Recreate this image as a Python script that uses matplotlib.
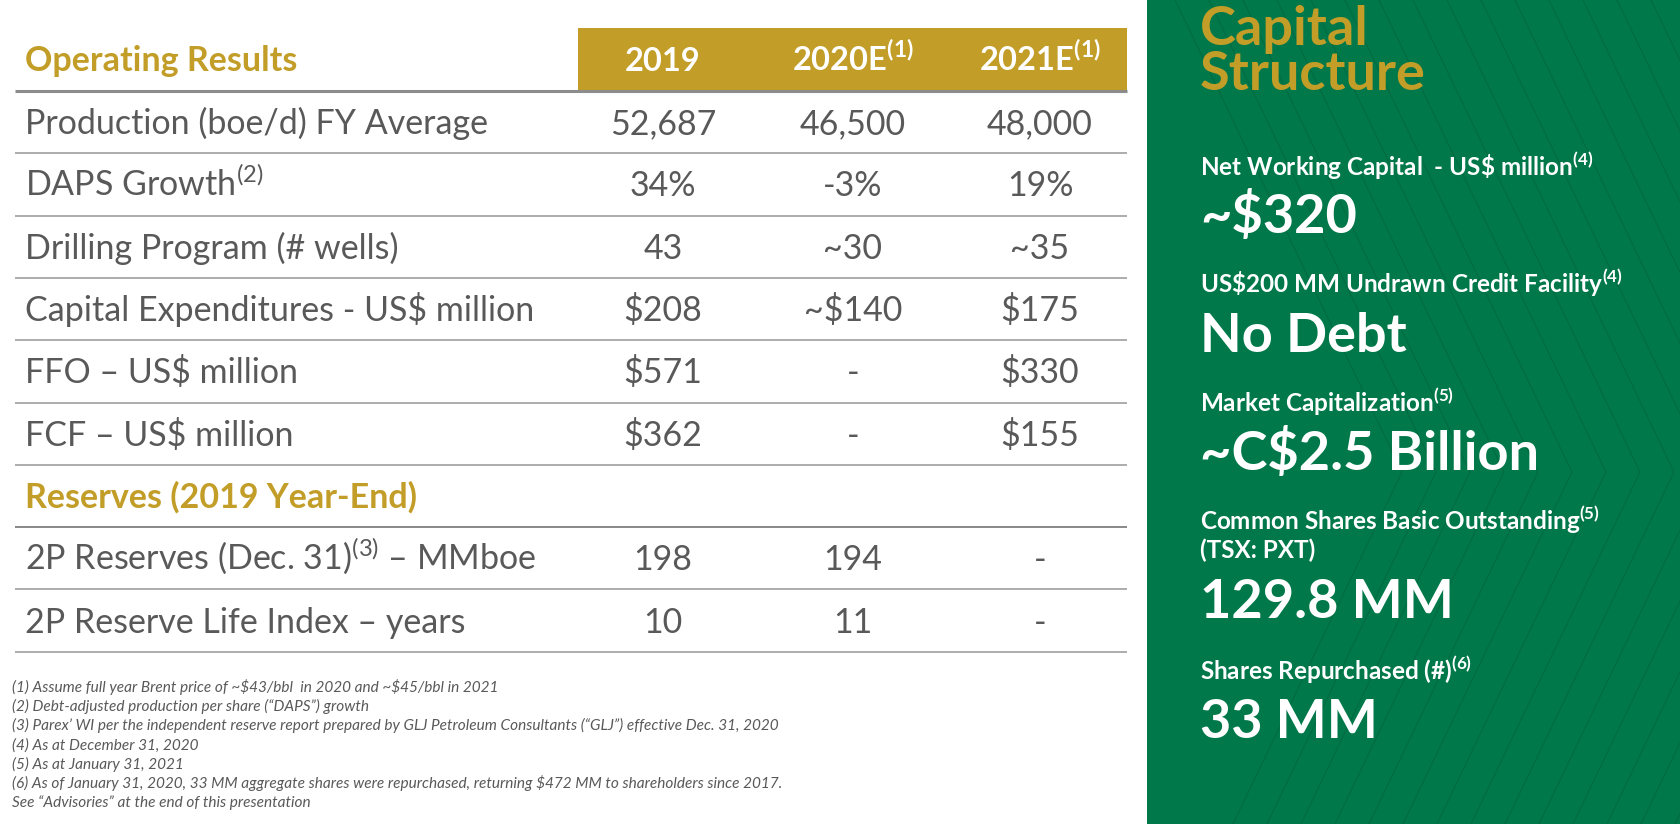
import matplotlib
matplotlib.use('Agg')
import matplotlib.pyplot as plt
from matplotlib.patches import Rectangle

plt.rcParams['font.family'] = ['Lato', 'DejaVu Sans']
plt.rcParams['mathtext.fontset'] = 'custom'
plt.rcParams['mathtext.rm'] = 'Lato'
plt.rcParams['mathtext.bf'] = 'Lato:bold'

GOLD = '#C29D27'
GREEN = '#00784A'
GREY_TXT = '#595959'
GREY_LINE = '#A6A6A6'

# ---- data ----
years = ['2019', r'2020E$^{\mathbf{(1)}}$', r'2021E$^{\mathbf{(1)}}$']
op_labels = ['Production (boe/d) FY Average',
             r'DAPS Growth$^{(2)}$',
             'Drilling Program (# wells)',
             'Capital Expenditures - US$ million',
             'FFO – US$ million',
             'FCF – US$ million']
op_2019 = ['52,687', '34%', '43', '$208', '$571', '$362']
op_2020 = ['46,500', '-3%', '~30', '~$140', '-', '-']
op_2021 = ['48,000', '19%', '~35', '$175', '$330', '$155']

res_labels = [r'2P Reserves (Dec. 31)$^{(3)}$ – MMboe',
              '2P Reserve Life Index – years']
res_2019 = ['198', '10']
res_2020 = ['194', '11']
res_2021 = ['-', '-']

cap_labels = [r'Net Working Capital  - US\$ million$^{\mathbf{(4)}}$',
              r'US\$200 MM Undrawn Credit Facility$^{\mathbf{(4)}}$',
              r'Market Capitalization$^{\mathbf{(5)}}$',
              r'Common Shares Basic Outstanding$^{\mathbf{(5)}}$' + '\n(TSX: PXT)',
              r'Shares Repurchased (#)$^{\mathbf{(6)}}$']
cap_values = ['~$320', 'No Debt', '~C$2.5 Billion', '129.8 MM', '33 MM']

footnotes = ['(1) Assume full year Brent price of ~$43/bbl  in 2020 and ~$45/bbl in 2021',
             '(2) Debt-adjusted production per share (“DAPS”) growth',
             '(3) Parex’ WI per the independent reserve report prepared by GLJ Petroleum Consultants (“GLJ”) effective Dec. 31, 2020',
             '(4) As at December 31, 2020',
             '(5) As at January 31, 2021',
             '(6) As of January 31, 2020, 33 MM aggregate shares were repurchased, returning $472 MM to shareholders since 2017.',
             'See “Advisories” at the end of this presentation']

# ---- layout (pixel coords) ----
W, H = 1681, 824
fig = plt.figure(figsize=(W / 100, H / 100), dpi=100)
ax = fig.add_axes([0, 0, 1, 1])
ax.set_xlim(0, W)
ax.set_ylim(H, 0)
ax.axis('off')

tab_left, tab_right = 15, 1127
text_x = 25
col_x = [663, 853, 1040]
row_top = 91
row_h = 62.3
fs = 24.5

# header
ax.add_patch(Rectangle((578, 28), tab_right - 578, 62, color=GOLD, lw=0))
ax.text(text_x, 71, 'Operating Results', color=GOLD, fontsize=fs,
        fontweight='bold', va='baseline')
for x, y in zip(col_x, years):
    ax.text(x, 71, y, color='white', fontsize=fs - 1, fontweight='bold',
            ha='center', va='baseline')
ax.hlines(row_top, tab_left, tab_right, color='#8C8C8C', lw=2.2)

# table rows
rows = list(zip(op_labels, op_2019, op_2020, op_2021))
rows.append(('Reserves (2019 Year-End)', None, None, None))
rows += list(zip(res_labels, res_2019, res_2020, res_2021))

for i, (lab, a, b, c) in enumerate(rows):
    top = row_top + i * row_h
    base = top + row_h / 2 + 12
    if a is None:
        ax.text(text_x, base, lab, color=GOLD, fontsize=fs,
                fontweight='bold', va='baseline')
    else:
        ax.text(text_x, base, lab, color=GREY_TXT, fontsize=fs, va='baseline')
        for x, v in zip(col_x, (a, b, c)):
            ax.text(x, base, v, color=GREY_TXT, fontsize=fs, ha='center',
                    va='baseline')
    lc = '#7F7F7F' if a is None else GREY_LINE
    ax.hlines(top + row_h, tab_left, tab_right, color=lc, lw=1.3)

# footnotes
for i, note in enumerate(footnotes):
    ax.text(12, 692 + i * 19.2, note, color=GREY_TXT, fontsize=11.1,
            style='italic', va='baseline', parse_math=False)

# ---- capital structure panel ----
ax.add_patch(Rectangle((1147, 0), W - 1147, H, color=GREEN, lw=0))
# faint chevron pattern
for k in range(15):
    x0 = 1175 + k * 34
    ax.plot([x0, x0 + 227, x0 + 58], [0, 472, 824], color='#005C38',
            lw=0.8, alpha=0.45)

px = 1200
ax.text(px, 45, 'Capital', color=GOLD, fontsize=39, fontweight='bold',
        va='baseline')
ax.text(px, 90, 'Structure', color=GOLD, fontsize=39, fontweight='bold',
        va='baseline')

label_base = [176, 293, 412, 530, 680]
value_base = [233, 352, 470, 618, 738]
for lab, lb in zip(cap_labels, label_base):
    lines = lab.split('\n')
    for j, ln in enumerate(lines):
        ax.text(px, lb + j * 28, ln, color='white', fontsize=17.5,
                fontweight='bold', va='baseline')
for val, vb in zip(cap_values, value_base):
    ax.text(px, vb, val, color='white', fontsize=39, fontweight='bold',
            va='baseline', parse_math=False)

fig.savefig('out.png', dpi=100, facecolor='white')
